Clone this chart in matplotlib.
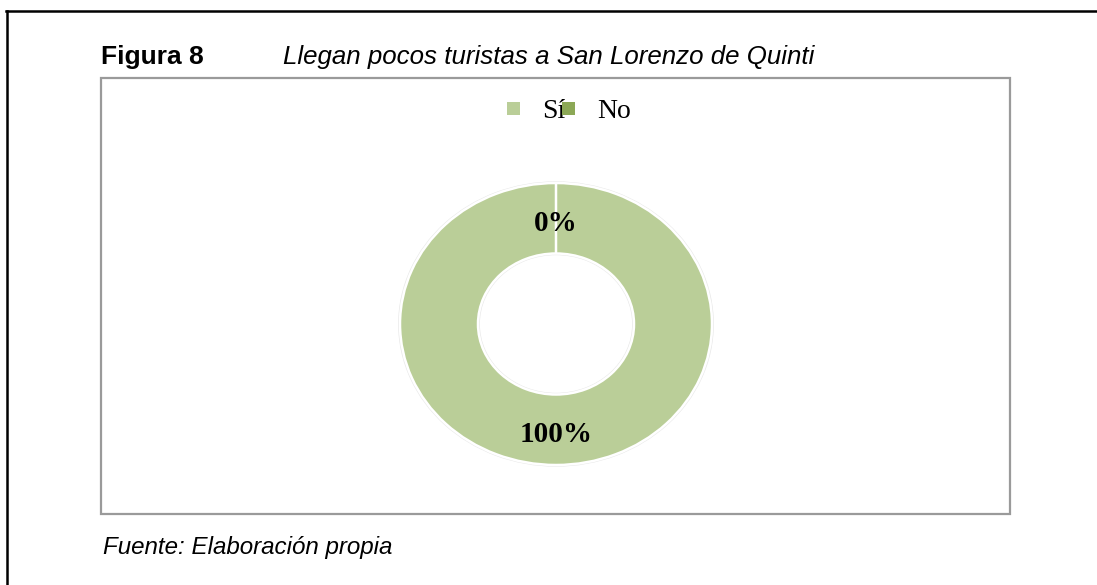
import matplotlib
matplotlib.use("Agg")
import matplotlib.pyplot as plt
from matplotlib.patches import Rectangle, Patch
from matplotlib.lines import Line2D
from matplotlib.transforms import offset_copy

categories = ["Sí", "No"]
values = [100, 0]
colors = ["#BACE98", "#8CA856"]

title_num = "Figura 8"
title_text = "Llegan pocos turistas a San Lorenzo de Quinti"
source_text = "Fuente: Elaboración propia"

W, H = 1097, 585
fig = plt.figure(figsize=(W / 100, H / 100), dpi=100)
fig.patch.set_facecolor("white")

def fx(px):
    return px / W

def fy(py):
    return 1 - py / H

# outer black frame (top and left)
fig.add_artist(Line2D([fx(6), 1.0], [fy(11), fy(11)], color="black", lw=1.8))
fig.add_artist(Line2D([fx(7), fx(7)], [fy(11), 0.0], color="black", lw=1.8))

# inner gray box
fig.add_artist(Rectangle((fx(101), fy(514)), fx(1010) - fx(101), fy(78) - fy(514),
                         fill=False, edgecolor="#9a9a9a", lw=1.6))

# title and footer
fig.text(fx(101), fy(64), title_num, fontsize=19, fontweight="bold",
         family="Liberation Sans", va="baseline", ha="left")
fig.text(fx(283), fy(64), title_text, fontsize=18.6, style="italic",
         family="Liberation Sans", va="baseline", ha="left")
fig.text(fx(103), fy(554), source_text, fontsize=17.4, style="italic",
         family="Liberation Sans", va="baseline", ha="left")

# donut
ax = fig.add_axes([fx(400), fy(465), fx(712) - fx(400), fy(183) - fy(465)])
# faint shadow ring
ax.pie([1], colors=["#e8e8e8"], radius=1.012, startangle=90,
       wedgeprops=dict(width=0.524, edgecolor="none"))
wedges, texts, autotexts = ax.pie(
    values, colors=colors, startangle=90, counterclock=False,
    radius=1.0, autopct=lambda p: f"{p:.0f}%", pctdistance=0.75,
    wedgeprops=dict(width=0.5, edgecolor="white", linewidth=1.8),
    textprops=dict(family="Liberation Serif", fontweight="bold", fontsize=21, color="black"),
)
shift = offset_copy(ax.transData, fig=fig, x=0, y=-5, units="dots")
for t in autotexts:
    t.set_transform(shift)
ax.set_aspect("auto")
ax.set_xlim(-1.0, 1.0)
ax.set_ylim(-1.0, 1.0)
ax.axis("off")

# legend
handles = [Patch(facecolor=c, edgecolor="none") for c in colors]
fig.legend(handles, categories, loc="center", bbox_to_anchor=(fx(569), fy(112)),
           ncol=2, frameon=False, prop=dict(family="Liberation Serif", size=20),
           handlelength=0.45, handleheight=0.38, handletextpad=0.8,
           columnspacing=-0.1, borderpad=0, borderaxespad=0)

fig.savefig("out.png", dpi=100, facecolor="white")
